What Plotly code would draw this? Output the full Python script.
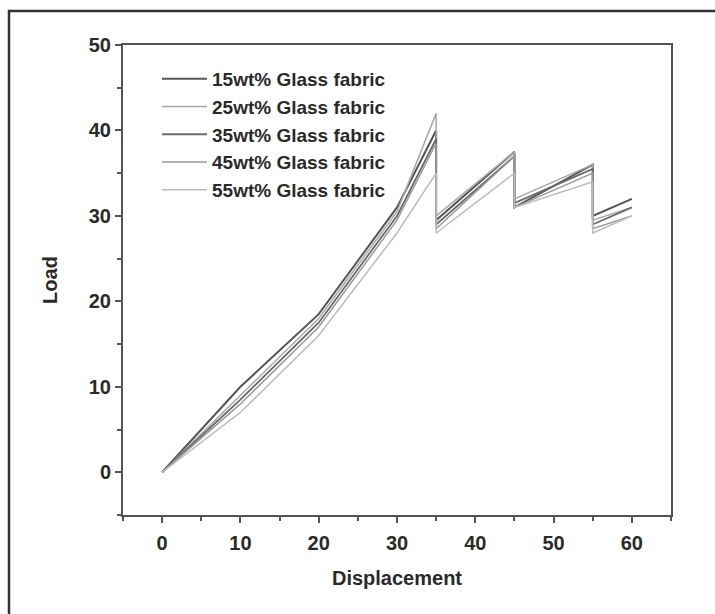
import plotly.graph_objects as go

displacement = [0, 10, 20, 30, 35, 35, 45, 45, 55, 55, 60]
series_names = ["15wt% Glass fabric", "25wt% Glass fabric", "35wt% Glass fabric",
                "45wt% Glass fabric", "55wt% Glass fabric"]
load_15 = [0, 10.0, 18.5, 31.0, 40.0, 29.5, 37.5, 31.0, 36.0, 30.0, 32.0]
load_25 = [0, 9.0, 18.0, 30.5, 42.0, 30.0, 37.5, 32.0, 36.0, 29.5, 31.0]
load_35 = [0, 8.5, 17.5, 30.0, 39.0, 29.0, 37.0, 31.5, 35.5, 29.0, 31.0]
load_45 = [0, 8.0, 17.0, 29.5, 38.5, 28.5, 37.0, 31.0, 35.0, 28.5, 30.0]
load_55 = [0, 7.0, 16.0, 28.0, 35.0, 28.0, 35.0, 31.0, 34.0, 28.0, 30.0]
x_ticks = [0, 10, 20, 30, 40, 50, 60]
y_ticks = [0, 10, 20, 30, 40, 50]

colors = ["#555555", "#a8a8a8", "#6a6a6a", "#9a9a9a", "#bcbcbc"]
widths = [2, 1.5, 1.8, 1.5, 1.5]
all_loads = [load_15, load_25, load_35, load_45, load_55]

fig = go.Figure()
for name, ys, c, w in zip(series_names, all_loads, colors, widths):
    fig.add_trace(go.Scatter(x=displacement, y=ys, mode="lines", name=name,
                             line=dict(color=c, width=w)))

font_family = "Liberation Sans, Arial, sans-serif"
txt = "#2a2a2a"
axis_common = dict(
    showgrid=False, zeroline=False, showline=True, linecolor="#555555", linewidth=2,
    mirror=True, ticks="outside", ticklen=6, tickwidth=1.5, tickcolor="#555555",
    tickfont=dict(family=font_family, size=20, color=txt, weight="bold"),
    minor=dict(ticks="outside", ticklen=4, tickwidth=1.5, tickcolor="#555555", dtick=5),
)
fig.update_xaxes(range=[-5, 65], tickvals=x_ticks, ticklabelstandoff=3, title=dict(
    text="Displacement", font=dict(family=font_family, size=20, color=txt, weight="bold"), standoff=18),
    **axis_common)
fig.update_yaxes(range=[-5, 50], tickvals=y_ticks, title=dict(
    text="Load", font=dict(family=font_family, size=20, color=txt, weight="bold"), standoff=26),
    **axis_common)

# outer frame (paper coords)
L, R, T, B = 123, 671, 45, 515
W, H = R - L, B - T
def px(x):
    return (x - L) / W
def py(y):
    return (B - y) / H
fig.add_shape(type="path", xref="paper", yref="paper",
              path=f"M {px(9)} {py(700)} L {px(9)} {py(11)} L {px(800)} {py(11)}",
              line=dict(color="#333333", width=2.5))

fig.update_layout(
    width=715, height=614,
    margin=dict(l=L, r=715 - R, t=T, b=614 - B),
    paper_bgcolor="white", plot_bgcolor="white",
    font=dict(family=font_family, color=txt),
    legend=dict(x=px(157), y=py(60), xanchor="left", yanchor="top",
                bgcolor="rgba(0,0,0,0)",
                font=dict(family=font_family, size=19, color=txt, weight="bold"),
                itemwidth=45, tracegroupgap=0),
)
fig.write_html("out.html")
